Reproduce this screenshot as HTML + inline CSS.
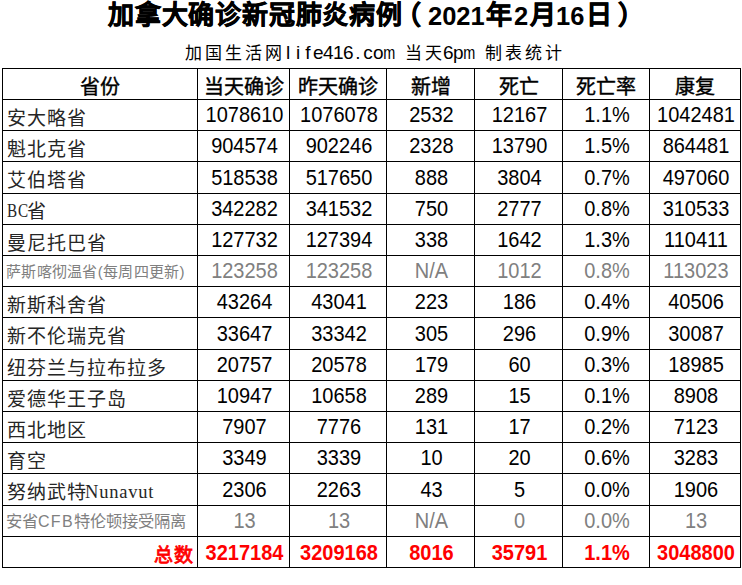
<!DOCTYPE html>
<html lang="zh-CN"><head><meta charset="utf-8">
<style>
html,body{margin:0;padding:0;background:#fff;}
body{width:742px;height:585px;position:relative;overflow:hidden;font-family:"Liberation Sans",sans-serif;color:#000;}
.h{position:absolute;height:1px;background:#000;}
.v{position:absolute;width:1px;background:#000;}
.c{position:absolute;display:flex;align-items:center;justify-content:center;white-space:nowrap;line-height:1;}
.l{justify-content:flex-start;}
.r{justify-content:flex-end;}
.t{position:absolute;white-space:nowrap;line-height:1;}
.hd{font-weight:normal;font-size:20px;-webkit-text-stroke:0.4px #000;}
.num{font-size:20px;}
.num span.n{display:inline-block;transform:scaleY(1.07);transform-origin:50% 85%;}
.cn{font-size:19px;letter-spacing:1px;color:#262626;}
.gs{font-size:15px;}
.ser{font-family:"Liberation Serif",serif;font-size:18.5px;}
.g{color:#808080;}
.red{color:#ff0000;font-weight:bold;}
.st span{display:inline-block;text-align:center;}
</style></head><body>

<div class="t" style="left:108px;top:2px;font-size:26px;font-weight:bold;letter-spacing:0.8px;-webkit-text-stroke:0.6px #000">加拿大确诊新冠肺炎病例</div>
<div class="t" style="left:395px;top:2px;font-size:26px;font-weight:bold;letter-spacing:0.8px;-webkit-text-stroke:0.6px #000">（</div>
<div class="t" style="left:428px;top:4px;font-size:25.5px;font-weight:bold;letter-spacing:0px">2021</div>
<div class="t" style="left:486px;top:2px;font-size:26px;font-weight:bold;letter-spacing:0.8px;-webkit-text-stroke:0.6px #000">年</div>
<div class="t" style="left:514px;top:4px;font-size:25.5px;font-weight:bold;letter-spacing:0px">2</div>
<div class="t" style="left:530px;top:2px;font-size:26px;font-weight:bold;letter-spacing:0.8px;-webkit-text-stroke:0.6px #000">月</div>
<div class="t" style="left:556px;top:4px;font-size:25.5px;font-weight:bold;letter-spacing:0px">16</div>
<div class="t" style="left:586px;top:2px;font-size:26px;font-weight:bold;letter-spacing:0.8px;-webkit-text-stroke:0.6px #000">日</div>
<div class="t" style="left:618px;top:2px;font-size:26px;font-weight:bold;letter-spacing:0.8px;-webkit-text-stroke:0.6px #000">）</div>
<div class="t" style="left:183px;top:45px;width:20px;text-align:center;font-size:17px">加</div>
<div class="t" style="left:203px;top:45px;width:20px;text-align:center;font-size:17px">国</div>
<div class="t" style="left:223px;top:45px;width:20px;text-align:center;font-size:17px">生</div>
<div class="t" style="left:243px;top:45px;width:20px;text-align:center;font-size:17px">活</div>
<div class="t" style="left:263px;top:45px;width:20px;text-align:center;font-size:17px">网</div>
<div class="t" style="left:283px;top:43px;width:10px;text-align:center;font-size:19px">l</div>
<div class="t" style="left:293px;top:43px;width:10px;text-align:center;font-size:19px">i</div>
<div class="t" style="left:303px;top:43px;width:10px;text-align:center;font-size:19px">f</div>
<div class="t" style="left:313px;top:43px;width:10px;text-align:center;font-size:19px">e</div>
<div class="t" style="left:323px;top:43px;width:10px;text-align:center;font-size:19px">4</div>
<div class="t" style="left:333px;top:43px;width:10px;text-align:center;font-size:19px">1</div>
<div class="t" style="left:343px;top:43px;width:10px;text-align:center;font-size:19px">6</div>
<div class="t" style="left:353px;top:43px;width:10px;text-align:center;font-size:19px">.</div>
<div class="t" style="left:363px;top:43px;width:10px;text-align:center;font-size:19px">c</div>
<div class="t" style="left:373px;top:43px;width:10px;text-align:center;font-size:19px">o</div>
<div class="t" style="left:381.5px;top:43px;width:10px;text-align:center;font-size:19px;transform:scaleX(0.76)">m</div>
<div class="t" style="left:403px;top:45px;width:20px;text-align:center;font-size:17px">当</div>
<div class="t" style="left:423px;top:45px;width:20px;text-align:center;font-size:17px">天</div>
<div class="t" style="left:443px;top:43px;width:10px;text-align:center;font-size:19px">6</div>
<div class="t" style="left:453px;top:43px;width:10px;text-align:center;font-size:19px">p</div>
<div class="t" style="left:461.5px;top:43px;width:10px;text-align:center;font-size:19px;transform:scaleX(0.76)">m</div>
<div class="t" style="left:483px;top:45px;width:20px;text-align:center;font-size:17px">制</div>
<div class="t" style="left:503px;top:45px;width:20px;text-align:center;font-size:17px">表</div>
<div class="t" style="left:523px;top:45px;width:20px;text-align:center;font-size:17px">统</div>
<div class="t" style="left:543px;top:45px;width:20px;text-align:center;font-size:17px">计</div>
<div class="h" style="left:2px;top:68px;width:739px"></div>
<div class="h" style="left:2px;top:99px;width:739px"></div>
<div class="h" style="left:2px;top:130px;width:739px"></div>
<div class="h" style="left:2px;top:161px;width:739px"></div>
<div class="h" style="left:2px;top:193px;width:739px"></div>
<div class="h" style="left:2px;top:224px;width:739px"></div>
<div class="h" style="left:2px;top:255px;width:739px"></div>
<div class="h" style="left:2px;top:286px;width:739px"></div>
<div class="h" style="left:2px;top:317px;width:739px"></div>
<div class="h" style="left:2px;top:349px;width:739px"></div>
<div class="h" style="left:2px;top:380px;width:739px"></div>
<div class="h" style="left:2px;top:411px;width:739px"></div>
<div class="h" style="left:2px;top:442px;width:739px"></div>
<div class="h" style="left:2px;top:473px;width:739px"></div>
<div class="h" style="left:2px;top:505px;width:739px"></div>
<div class="h" style="left:2px;top:536px;width:739px"></div>
<div class="h" style="left:2px;top:567px;width:739px"></div>
<div class="v" style="left:2px;top:68px;height:500px"></div>
<div class="v" style="left:197px;top:68px;height:500px"></div>
<div class="v" style="left:289px;top:68px;height:500px"></div>
<div class="v" style="left:386px;top:68px;height:500px"></div>
<div class="v" style="left:474px;top:68px;height:500px"></div>
<div class="v" style="left:562px;top:68px;height:500px"></div>
<div class="v" style="left:649px;top:68px;height:500px"></div>
<div class="v" style="left:740px;top:68px;height:500px"></div>
<div class="c hd" style="left:3px;top:72px;width:194px;height:30px">省份</div>
<div class="c hd" style="left:198px;top:72px;width:91px;height:30px">当天确诊</div>
<div class="c hd" style="left:290px;top:72px;width:96px;height:30px">昨天确诊</div>
<div class="c hd" style="left:387px;top:72px;width:87px;height:30px">新增</div>
<div class="c hd" style="left:475px;top:72px;width:87px;height:30px">死亡</div>
<div class="c hd" style="left:563px;top:72px;width:86px;height:30px">死亡率</div>
<div class="c hd" style="left:650px;top:72px;width:90px;height:30px">康复</div>
<div class="c l cn" style="left:3px;top:103px;width:194px;height:30px"><span style="padding-left:4px">安大略省</span></div>
<div class="c num" style="left:199px;top:100px;width:91px;height:30px"><span class="n">1078610</span></div>
<div class="c num" style="left:291px;top:100px;width:96px;height:30px"><span class="n">1076078</span></div>
<div class="c num" style="left:388px;top:100px;width:87px;height:30px"><span class="n">2532</span></div>
<div class="c num" style="left:476px;top:100px;width:87px;height:30px"><span class="n">12167</span></div>
<div class="c num" style="left:564px;top:100px;width:86px;height:30px"><span class="n">1.1%</span></div>
<div class="c num" style="left:651px;top:100px;width:90px;height:30px"><span class="n">1042481</span></div>
<div class="c l cn" style="left:3px;top:134px;width:194px;height:30px"><span style="padding-left:4px">魁北克省</span></div>
<div class="c num" style="left:199px;top:131px;width:91px;height:30px"><span class="n">904574</span></div>
<div class="c num" style="left:291px;top:131px;width:96px;height:30px"><span class="n">902246</span></div>
<div class="c num" style="left:388px;top:131px;width:87px;height:30px"><span class="n">2328</span></div>
<div class="c num" style="left:476px;top:131px;width:87px;height:30px"><span class="n">13790</span></div>
<div class="c num" style="left:564px;top:131px;width:86px;height:30px"><span class="n">1.5%</span></div>
<div class="c num" style="left:651px;top:131px;width:90px;height:30px"><span class="n">864481</span></div>
<div class="c l cn" style="left:3px;top:165px;width:194px;height:31px"><span style="padding-left:4px">艾伯塔省</span></div>
<div class="c num" style="left:199px;top:162px;width:91px;height:31px"><span class="n">518538</span></div>
<div class="c num" style="left:291px;top:162px;width:96px;height:31px"><span class="n">517650</span></div>
<div class="c num" style="left:388px;top:162px;width:87px;height:31px"><span class="n">888</span></div>
<div class="c num" style="left:476px;top:162px;width:87px;height:31px"><span class="n">3804</span></div>
<div class="c num" style="left:564px;top:162px;width:86px;height:31px"><span class="n">0.7%</span></div>
<div class="c num" style="left:651px;top:162px;width:90px;height:31px"><span class="n">497060</span></div>
<div class="c l cn" style="left:3px;top:197px;width:194px;height:30px"><span style="padding-left:4px"><span class="ser" style="display:inline-block;transform:scaleX(0.82);transform-origin:left;width:19.5px;position:relative;top:-1px">BC</span>省</span></div>
<div class="c num" style="left:199px;top:194px;width:91px;height:30px"><span class="n">342282</span></div>
<div class="c num" style="left:291px;top:194px;width:96px;height:30px"><span class="n">341532</span></div>
<div class="c num" style="left:388px;top:194px;width:87px;height:30px"><span class="n">750</span></div>
<div class="c num" style="left:476px;top:194px;width:87px;height:30px"><span class="n">2777</span></div>
<div class="c num" style="left:564px;top:194px;width:86px;height:30px"><span class="n">0.8%</span></div>
<div class="c num" style="left:651px;top:194px;width:90px;height:30px"><span class="n">310533</span></div>
<div class="c l cn" style="left:3px;top:228px;width:194px;height:30px"><span style="padding-left:4px">曼尼托巴省</span></div>
<div class="c num" style="left:199px;top:225px;width:91px;height:30px"><span class="n">127732</span></div>
<div class="c num" style="left:291px;top:225px;width:96px;height:30px"><span class="n">127394</span></div>
<div class="c num" style="left:388px;top:225px;width:87px;height:30px"><span class="n">338</span></div>
<div class="c num" style="left:476px;top:225px;width:87px;height:30px"><span class="n">1642</span></div>
<div class="c num" style="left:564px;top:225px;width:86px;height:30px"><span class="n">1.3%</span></div>
<div class="c num" style="left:651px;top:225px;width:90px;height:30px"><span class="n">110411</span></div>
<div class="c l gs g" style="left:3px;top:256px;width:194px;height:30px"><span style="padding-left:3px"><span style="letter-spacing:0.3px">萨斯喀彻温省(每周四更新)</span></span></div>
<div class="c num g" style="left:199px;top:256px;width:91px;height:30px"><span class="n">123258</span></div>
<div class="c num g" style="left:291px;top:256px;width:96px;height:30px"><span class="n">123258</span></div>
<div class="c num g" style="left:388px;top:256px;width:87px;height:30px"><span class="n">N/A</span></div>
<div class="c num g" style="left:476px;top:256px;width:87px;height:30px"><span class="n">1012</span></div>
<div class="c num g" style="left:564px;top:256px;width:86px;height:30px"><span class="n">0.8%</span></div>
<div class="c num g" style="left:651px;top:256px;width:90px;height:30px"><span class="n">113023</span></div>
<div class="c l cn" style="left:3px;top:290px;width:194px;height:30px"><span style="padding-left:4px">新斯科舍省</span></div>
<div class="c num" style="left:199px;top:287px;width:91px;height:30px"><span class="n">43264</span></div>
<div class="c num" style="left:291px;top:287px;width:96px;height:30px"><span class="n">43041</span></div>
<div class="c num" style="left:388px;top:287px;width:87px;height:30px"><span class="n">223</span></div>
<div class="c num" style="left:476px;top:287px;width:87px;height:30px"><span class="n">186</span></div>
<div class="c num" style="left:564px;top:287px;width:86px;height:30px"><span class="n">0.4%</span></div>
<div class="c num" style="left:651px;top:287px;width:90px;height:30px"><span class="n">40506</span></div>
<div class="c l cn" style="left:3px;top:321px;width:194px;height:31px"><span style="padding-left:4px">新不伦瑞克省</span></div>
<div class="c num" style="left:199px;top:318px;width:91px;height:31px"><span class="n">33647</span></div>
<div class="c num" style="left:291px;top:318px;width:96px;height:31px"><span class="n">33342</span></div>
<div class="c num" style="left:388px;top:318px;width:87px;height:31px"><span class="n">305</span></div>
<div class="c num" style="left:476px;top:318px;width:87px;height:31px"><span class="n">296</span></div>
<div class="c num" style="left:564px;top:318px;width:86px;height:31px"><span class="n">0.9%</span></div>
<div class="c num" style="left:651px;top:318px;width:90px;height:31px"><span class="n">30087</span></div>
<div class="c l cn" style="left:3px;top:353px;width:194px;height:30px"><span style="padding-left:4px">纽芬兰与拉布拉多</span></div>
<div class="c num" style="left:199px;top:350px;width:91px;height:30px"><span class="n">20757</span></div>
<div class="c num" style="left:291px;top:350px;width:96px;height:30px"><span class="n">20578</span></div>
<div class="c num" style="left:388px;top:350px;width:87px;height:30px"><span class="n">179</span></div>
<div class="c num" style="left:476px;top:350px;width:87px;height:30px"><span class="n">60</span></div>
<div class="c num" style="left:564px;top:350px;width:86px;height:30px"><span class="n">0.3%</span></div>
<div class="c num" style="left:651px;top:350px;width:90px;height:30px"><span class="n">18985</span></div>
<div class="c l cn" style="left:3px;top:384px;width:194px;height:30px"><span style="padding-left:4px">爱德华王子岛</span></div>
<div class="c num" style="left:199px;top:381px;width:91px;height:30px"><span class="n">10947</span></div>
<div class="c num" style="left:291px;top:381px;width:96px;height:30px"><span class="n">10658</span></div>
<div class="c num" style="left:388px;top:381px;width:87px;height:30px"><span class="n">289</span></div>
<div class="c num" style="left:476px;top:381px;width:87px;height:30px"><span class="n">15</span></div>
<div class="c num" style="left:564px;top:381px;width:86px;height:30px"><span class="n">0.1%</span></div>
<div class="c num" style="left:651px;top:381px;width:90px;height:30px"><span class="n">8908</span></div>
<div class="c l cn" style="left:3px;top:415px;width:194px;height:30px"><span style="padding-left:4px">西北地区</span></div>
<div class="c num" style="left:199px;top:412px;width:91px;height:30px"><span class="n">7907</span></div>
<div class="c num" style="left:291px;top:412px;width:96px;height:30px"><span class="n">7776</span></div>
<div class="c num" style="left:388px;top:412px;width:87px;height:30px"><span class="n">131</span></div>
<div class="c num" style="left:476px;top:412px;width:87px;height:30px"><span class="n">17</span></div>
<div class="c num" style="left:564px;top:412px;width:86px;height:30px"><span class="n">0.2%</span></div>
<div class="c num" style="left:651px;top:412px;width:90px;height:30px"><span class="n">7123</span></div>
<div class="c l cn" style="left:3px;top:446px;width:194px;height:30px"><span style="padding-left:4px">育空</span></div>
<div class="c num" style="left:199px;top:443px;width:91px;height:30px"><span class="n">3349</span></div>
<div class="c num" style="left:291px;top:443px;width:96px;height:30px"><span class="n">3339</span></div>
<div class="c num" style="left:388px;top:443px;width:87px;height:30px"><span class="n">10</span></div>
<div class="c num" style="left:476px;top:443px;width:87px;height:30px"><span class="n">20</span></div>
<div class="c num" style="left:564px;top:443px;width:86px;height:30px"><span class="n">0.6%</span></div>
<div class="c num" style="left:651px;top:443px;width:90px;height:30px"><span class="n">3283</span></div>
<div class="c l cn" style="left:3px;top:477px;width:194px;height:31px"><span style="padding-left:4px">努纳武特<span class="ser" style="letter-spacing:0.8px;position:relative;top:-1px;margin-left:-2px">Nunavut</span></span></div>
<div class="c num" style="left:199px;top:474px;width:91px;height:31px"><span class="n">2306</span></div>
<div class="c num" style="left:291px;top:474px;width:96px;height:31px"><span class="n">2263</span></div>
<div class="c num" style="left:388px;top:474px;width:87px;height:31px"><span class="n">43</span></div>
<div class="c num" style="left:476px;top:474px;width:87px;height:31px"><span class="n">5</span></div>
<div class="c num" style="left:564px;top:474px;width:86px;height:31px"><span class="n">0.0%</span></div>
<div class="c num" style="left:651px;top:474px;width:90px;height:31px"><span class="n">1906</span></div>
<div class="c l gs g" style="left:3px;top:506px;width:194px;height:30px"><span style="padding-left:3px"><span style="font-size:16.3px">安省<span style="letter-spacing:1.3px;font-size:16px">CFB</span>特伦顿接受隔离</span></span></div>
<div class="c num g" style="left:199px;top:506px;width:91px;height:30px"><span class="n">13</span></div>
<div class="c num g" style="left:291px;top:506px;width:96px;height:30px"><span class="n">13</span></div>
<div class="c num g" style="left:388px;top:506px;width:87px;height:30px"><span class="n">N/A</span></div>
<div class="c num g" style="left:476px;top:506px;width:87px;height:30px"><span class="n">0</span></div>
<div class="c num g" style="left:564px;top:506px;width:86px;height:30px"><span class="n">0.0%</span></div>
<div class="c num g" style="left:651px;top:506px;width:90px;height:30px"><span class="n">13</span></div>
<div class="c r cn red" style="left:3px;top:540px;width:194px;height:30px"><span style="padding-right:3px;font-weight:normal;-webkit-text-stroke:0.8px #f00">总数</span></div>
<div class="c num red" style="left:199px;top:538px;width:91px;height:30px"><span class="n">3217184</span></div>
<div class="c num red" style="left:291px;top:538px;width:96px;height:30px"><span class="n">3209168</span></div>
<div class="c num red" style="left:388px;top:538px;width:87px;height:30px"><span class="n">8016</span></div>
<div class="c num red" style="left:476px;top:538px;width:87px;height:30px"><span class="n">35791</span></div>
<div class="c num red" style="left:564px;top:538px;width:86px;height:30px"><span class="n">1.1%</span></div>
<div class="c num red" style="left:651px;top:538px;width:90px;height:30px"><span class="n">3048800</span></div>
</body></html>
